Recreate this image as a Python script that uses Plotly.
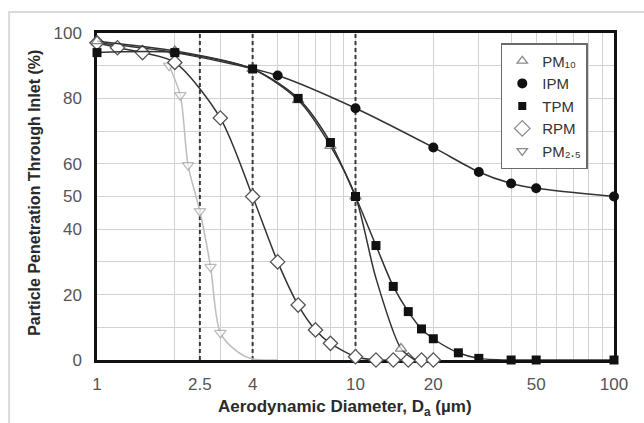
import plotly.graph_objects as go

# Aerodynamic diameter (um) and penetration (%) for each sampling convention
ipm_x = [1, 2, 5, 10, 20, 30, 40, 50, 100]
ipm_y = [97, 94, 87, 77, 65, 57.5, 54, 52.5, 50]

tpm_x = [1, 2, 4, 6, 8, 10, 12, 14, 16, 18, 20, 25, 30, 40, 50, 100]
tpm_y = [94, 94, 89, 80, 66.5, 50, 35, 22.5, 14.8, 9.5, 6.5, 2.2, 0.5, 0, 0, 0]

pm10_x = [1, 2, 4, 6, 8, 10, 12, 15, 17]
pm10_y = [97.5, 94.5, 89, 79.5, 65.5, 50, 25, 3.5, 0]
pm10_marked = [1, 1, 1, 1, 1, 1, 0, 1, 0]

rpm_x = [1, 1.2, 1.5, 2, 3, 4, 5, 6, 7, 8, 10, 12, 14, 16, 18, 20]
rpm_y = [97, 95.5, 94, 91, 74, 50, 30, 16.8, 9.2, 5.1, 1, 0, 0, 0, 0, 0]

pm25_x = [1.9, 2.1, 2.25, 2.5, 2.75, 3, 3.5, 4, 5]
pm25_y = [90, 81, 59.6, 45.5, 28.5, 8.3, 2.5, 0.3, 0]
pm25_marked = [1, 1, 1, 1, 1, 1, 0, 0, 0]

# Cut-point reference lines
cut_points = [2.5, 4, 10]

# Axis ticks and gridlines
x_tickvals = [1, 2.5, 4, 10, 20, 50, 100]
x_ticktext = ["1", "2.5", "4", "10", "20", "50", "100"]
x_minor = [2, 3, 5, 6, 7, 8, 9, 30, 40, 60, 70, 80, 90]
y_tickvals = [0, 20, 40, 50, 60, 80, 100]
y_minor = [10, 30, 70, 90]

FONT = "Liberation Sans, Arial, sans-serif"
LINE = "#333333"
GRID = "#d2d2d2"

fig = go.Figure()

for cp in cut_points:
    fig.add_trace(go.Scatter(
        x=[cp, cp], y=[0, 100], mode="lines", showlegend=False, hoverinfo="skip",
        line=dict(color="#3a3a3a", width=2, dash="4px,3px"),
    ))

fig.add_trace(go.Scatter(
    x=pm25_x, y=pm25_y, mode="lines+markers", showlegend=False, cliponaxis=False,
    line=dict(color="#bdbdbd", width=1.5, shape="spline", smoothing=0.8),
    marker=dict(symbol="triangle-down", size=[10 * m for m in pm25_marked],
                color="white", line=dict(color="#a0a0a0", width=1.3)),
))
fig.add_trace(go.Scatter(
    x=ipm_x, y=ipm_y, mode="lines+markers", showlegend=False, cliponaxis=False,
    line=dict(color=LINE, width=1.5, shape="spline", smoothing=0.8),
    marker=dict(symbol="circle", size=10, color="#111111"),
))
fig.add_trace(go.Scatter(
    x=rpm_x, y=rpm_y, mode="lines+markers", showlegend=False, cliponaxis=False,
    line=dict(color=LINE, width=1.5, shape="spline", smoothing=0.8),
    marker=dict(symbol="diamond", size=11, color="white",
                line=dict(color="#555555", width=1.3)),
))
fig.add_trace(go.Scatter(
    x=pm10_x, y=pm10_y, mode="lines+markers", showlegend=False, cliponaxis=False,
    line=dict(color=LINE, width=1.5, shape="spline", smoothing=0.8),
    marker=dict(symbol="triangle-up", size=[10 * m for m in pm10_marked],
                color="white", line=dict(color="#555555", width=1.3)),
))
fig.add_trace(go.Scatter(
    x=tpm_x, y=tpm_y, mode="lines+markers", showlegend=False, cliponaxis=False,
    line=dict(color=LINE, width=1.5, shape="spline", smoothing=0.8),
    marker=dict(symbol="square", size=9, color="#111111"),
))

# Legend entries show the marker symbols only
legend_items = [
    ("PM₁₀", dict(symbol="triangle-up", size=9, color="white",
                  line=dict(color="#8a8a8a", width=1.3))),
    ("IPM", dict(symbol="circle", size=10, color="#111111")),
    ("TPM", dict(symbol="square", size=8, color="#111111")),
    ("RPM", dict(symbol="diamond", size=12, color="white",
                 line=dict(color="#8a8a8a", width=1.3))),
    ("PM₂.₅", dict(symbol="triangle-down", size=9, color="white",
                   line=dict(color="#8a8a8a", width=1.3))),
]
for name, mk in legend_items:
    fig.add_trace(go.Scatter(x=[None], y=[None], mode="markers", name=name, marker=mk))

fig.update_layout(
    width=644, height=423,
    margin=dict(l=97, r=30, t=33, b=63),
    paper_bgcolor="white", plot_bgcolor="white",
    font=dict(family=FONT, color="#333333"),
    showlegend=True,
    legend=dict(x=0.781, y=0.969, xanchor="left", yanchor="top",
                bgcolor="white", bordercolor="#6a6a6a", borderwidth=1.5,
                font=dict(size=15, color="#333333"), traceorder="normal",
                itemwidth=30, tracegroupgap=0),
    xaxis=dict(
        type="log", range=[0, 2],
        tickmode="array", tickvals=x_tickvals, ticktext=x_ticktext,
        showgrid=True, gridcolor=GRID, gridwidth=1,
        minor=dict(tickvals=x_minor, showgrid=True, gridcolor=GRID, gridwidth=1),
        showline=True, linecolor="#111111", linewidth=2.5, mirror=True,
        ticks="", ticklabelstandoff=7,
        tickfont=dict(size=17, color="#555555", family=FONT),
        zeroline=False, layer="below traces",
    ),
    yaxis=dict(
        range=[0, 100],
        tickmode="array", tickvals=y_tickvals,
        showgrid=True, gridcolor=GRID, gridwidth=1,
        minor=dict(tickvals=y_minor, showgrid=True, gridcolor=GRID, gridwidth=1),
        showline=True, linecolor="#111111", linewidth=2.5, mirror=True,
        ticks="", ticklabelstandoff=9,
        tickfont=dict(size=17, color="#555555", family=FONT),
        zeroline=False, layer="below traces",
    ),
    annotations=[
        dict(text="Aerodynamic Diameter, D<sub>a</sub> (µm)", xref="paper", yref="paper",
             x=0.48, y=-0.147, xanchor="center", yanchor="middle", showarrow=False,
             font=dict(size=17, color="#2a2a2a", family=FONT, weight="bold")),
        dict(text="Particle Penetration Through Inlet (%)", xref="paper", yref="paper",
             x=-0.12, y=0.511, xanchor="center", yanchor="middle", showarrow=False,
             textangle=-90,
             font=dict(size=16, color="#2a2a2a", family=FONT, weight="bold")),
    ],
    shapes=[
        dict(type="rect", xref="paper", yref="paper",
             x0=-0.170, x1=1.08, y0=-0.22, y1=1.064,
             line=dict(color="#dadada", width=2), fillcolor="rgba(0,0,0,0)",
             layer="below"),
    ],
)

fig.write_html("out.html")
